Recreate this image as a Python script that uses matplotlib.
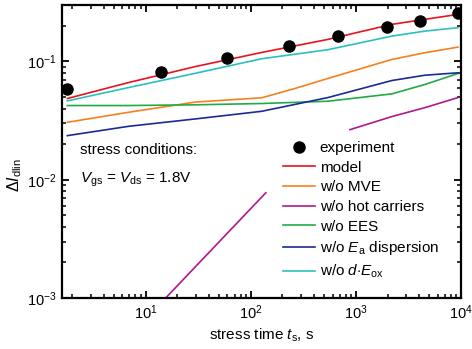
import numpy as np
import matplotlib
matplotlib.use('Agg')
import matplotlib.pyplot as plt

plt.rcParams['font.family'] = ['Liberation Sans', 'DejaVu Sans']
plt.rcParams['mathtext.fontset'] = 'custom'
plt.rcParams['mathtext.rm'] = 'Liberation Sans'
plt.rcParams['mathtext.it'] = 'Liberation Sans:italic'
plt.rcParams['mathtext.bf'] = 'Liberation Sans:bold'

# experiment
t_exp = [1.8, 13.9, 59, 230, 674, 1970, 4070, 9360]
y_exp = [0.059, 0.082, 0.106, 0.134, 0.163, 0.194, 0.218, 0.255]

# model curves (shared time grid)
t_mod = [1.8, 6.9, 30, 127, 541, 2200, 4540, 9360]
y_model = [0.0486, 0.0664, 0.0907, 0.1192, 0.1536, 0.2059, 0.227, 0.250]
y_no_dEox = [0.0464, 0.0602, 0.0796, 0.1054, 0.1257, 0.1638, 0.1806, 0.193]
y_no_ees = [0.0424, 0.0424, 0.0430, 0.0441, 0.0461, 0.0532, 0.0639, 0.0791]
y_no_ea = [0.0236, 0.0283, 0.0327, 0.0379, 0.0495, 0.069, 0.0765, 0.0802]

t_mve = [1.8, 6.9, 30, 127, 262, 541, 2200, 4540, 9360]
y_no_mve = [0.0306, 0.0372, 0.0454, 0.0493, 0.059, 0.0718, 0.104, 0.1185, 0.1322]

# w/o hot carriers (gap where hidden behind legend)
t_hc = [10.9, 15.5, 139, np.nan, 877, 2200, 4540, 9360]
y_no_hc = [0.00072, 0.001, 0.00776, np.nan, 0.0265, 0.0342, 0.0407, 0.0495]

fig = plt.figure(figsize=(4.72, 3.49), dpi=100)
ax = fig.add_axes([0.1314, 0.1461, 0.8453, 0.8395])

ax.plot(t_exp, y_exp, 'o', color='black', ms=8, label='experiment', zorder=5)
ax.plot(t_mod, y_model, color='#e8141c', lw=1.2, label='model')
ax.plot(t_mve, y_no_mve, color='#f7801e', lw=1.2, label='w/o MVE')
ax.plot(t_hc, y_no_hc, color='#b0188f', lw=1.2, label='w/o hot carriers')
ax.plot(t_mod, y_no_ees, color='#22aa44', lw=1.2, label='w/o EES')
ax.plot(t_mod, y_no_ea, color='#1c2a94', lw=1.2, label=r'w/o $E_{\mathrm{a}}$ dispersion')
ax.plot(t_mod, y_no_dEox, color='#2dbfbf', lw=1.2, label=r'w/o $d{\cdot}E_{\mathrm{ox}}$')

ax.set_xscale('log')
ax.set_yscale('log')
ax.set_xlim(1.6, 1e4)
ax.set_ylim(1e-3, 0.3)

for s in ax.spines.values():
    s.set_linewidth(1.6)
ax.tick_params(which='both', direction='in', top=True, right=True, labelsize=10.5)
ax.tick_params(which='major', length=5, width=1.3, pad=4)
ax.tick_params(which='minor', length=3, width=1.1)

ax.set_xlabel(r'stress time $t_{\mathrm{s}}$, s', fontsize=11, labelpad=3)
ax.set_ylabel(r'$\Delta I_{\mathrm{dlin}}$', fontsize=11.5)
ax.yaxis.set_label_coords(-0.095, 0.42)

ax.text(0.045, 0.505, 'stress conditions:', transform=ax.transAxes, fontsize=11, va='center')
ax.text(0.045, 0.405, r'$V_{\mathrm{gs}}$ = $V_{\mathrm{ds}}$ = 1.8V', transform=ax.transAxes,
        fontsize=11, va='center')

ax.legend(loc='upper left', bbox_to_anchor=(0.554, 0.536), frameon=False, fontsize=11,
          handlelength=2.1, handletextpad=0.3, labelspacing=0.37, borderpad=0,
          borderaxespad=0)

fig.savefig('out.png', dpi=100)
